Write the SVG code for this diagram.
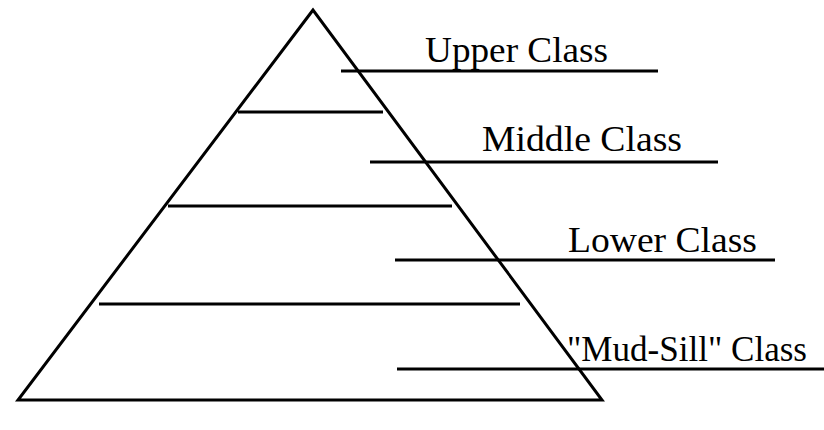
<svg xmlns="http://www.w3.org/2000/svg" width="824" height="430" viewBox="0 0 824 430">
<style>
.l{stroke:#000;stroke-width:3;fill:none}
text{fill:#000;font-family:'Liberation Serif','Times New Roman',serif;font-size:36px}
</style>
<rect width="824" height="430" fill="#fff"/>
<g id="pyramid">
<polygon class="l" points="313,10 18,400 602,400"/>
<line class="l" x1="238" y1="112" x2="383" y2="112"/>
<line class="l" x1="168" y1="206" x2="452" y2="206"/>
<line class="l" x1="99" y1="304" x2="520" y2="304"/>
</g>
<g id="connectors">
<line class="l" x1="341" y1="71" x2="658" y2="71"/>
<line class="l" x1="370" y1="162" x2="718" y2="162"/>
<line class="l" x1="395" y1="260" x2="775" y2="260"/>
<line class="l" x1="397" y1="369" x2="824" y2="369"/>
</g>
<g id="upper"><text x="425" y="62" textLength="183" lengthAdjust="spacingAndGlyphs">Upper Class</text></g>
<g id="middle"><text x="482" y="151" textLength="200" lengthAdjust="spacingAndGlyphs">Middle Class</text></g>
<g id="lower"><text x="568" y="252" textLength="189" lengthAdjust="spacingAndGlyphs">Lower Class</text></g>
<g id="mudsill"><text x="567" y="361" textLength="240" lengthAdjust="spacingAndGlyphs">"Mud-Sill" Class</text></g>
</svg>
